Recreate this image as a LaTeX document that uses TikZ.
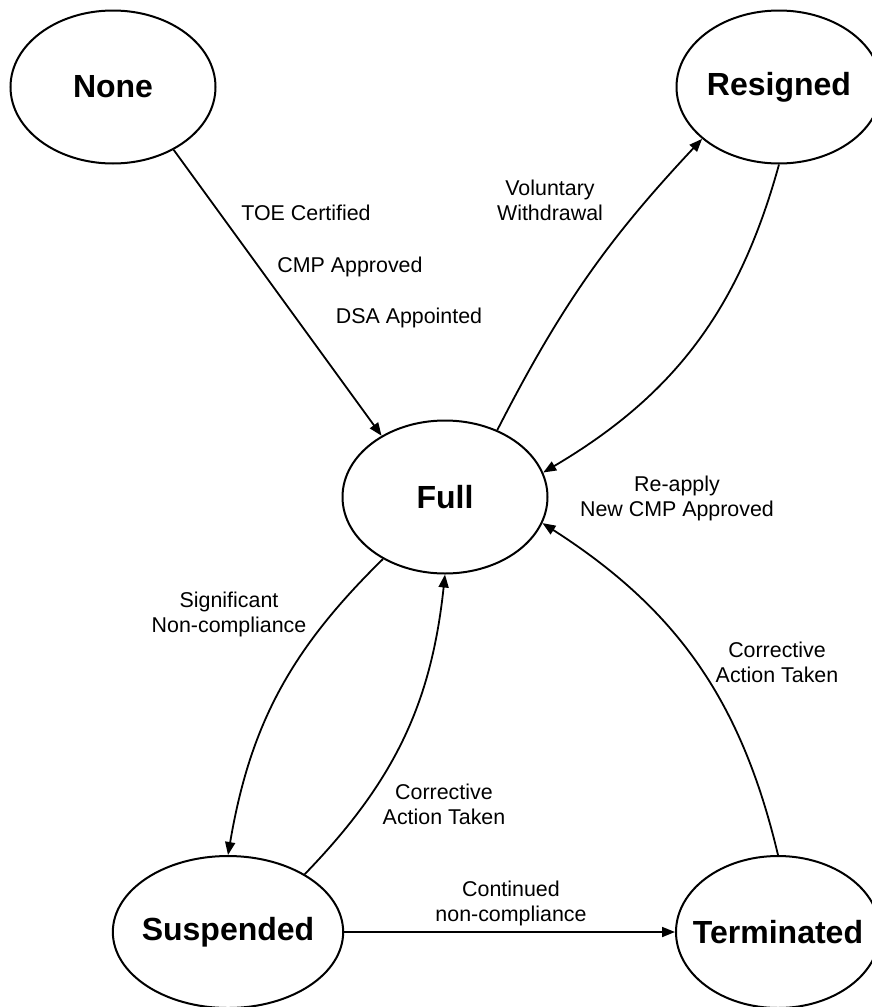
\documentclass[tikz,border=0pt]{standalone}
\usepackage{fontspec}
\setmainfont{Liberation Sans}
\usetikzlibrary{shapes.geometric,arrows.meta}

\begin{document}
\begin{tikzpicture}[x=0.5pt, y=-0.5pt, line width=0.9pt, >={Triangle[length=6.5pt,width=5pt]},
	state/.style={ellipse, draw, line width=1pt, inner sep=0pt, minimum width=102.5pt, minimum height=76.5pt, font=\fontsize{16}{19}\selectfont\bfseries},
	trans/.style={align=center, inner sep=0pt, font=\fontsize{10.7}{12.5}\selectfont}]
	
	\useasboundingbox (0, 0) rectangle (872, 1007);
	
	\node[state] at (113, 87) (none) {None};
	\node[state] at (779, 87) (resigned) {Resigned};
	\node[state] at (445, 497) (full) {Full};
	\node[state, inner xsep=-2.4pt, minimum width=115pt, minimum height=76pt] at (228, 932) (suspended) {Suspended};
	\node[state, inner xsep=-7pt, minimum width=102pt, minimum height=76pt] at (778, 932) (terminated) {Terminated};
	
	\node[trans] at (306, 213) (toe) {TOE Certified};
	\node[trans] at (350, 267) (cmp) {CMP Approved};
	\node[trans] at (409, 318) (dsa) {DSA Appointed};
	\node[trans] at (550, 200) (withdraw) {Voluntary\\Withdrawal};
	\node[trans] at (677, 498) (reapply) {Re-apply\\New CMP Approved};
	\node[trans] at (229, 614) (signif) {Significant\\Non-compliance};
	\node[trans] at (777, 662) (corrterm) {Corrective\\Action Taken};
	\node[trans] at (444, 804) (corrsusp) {Corrective\\Action Taken};
	\node[trans] at (511, 903) (contin) {Continued\\non-compliance};
	
	\draw[] [->] (none.-46) to (full.136);
	\draw[] [->, bend left=8] (full.52) to (resigned.214);
	\draw[] [->, bend left=22] (resigned.-90) to (full.14);
	
	\draw[] [->, bend right=18] (full.225) to (suspended.90);
	\draw[] [->, bend right=19] (suspended.37) to (full.-90);
	\draw[] [->, bend right=22] (terminated.90) to (full.-15);
	
	\draw[] [->] (suspended) to (terminated);
	
\end{tikzpicture}
\end{document}
